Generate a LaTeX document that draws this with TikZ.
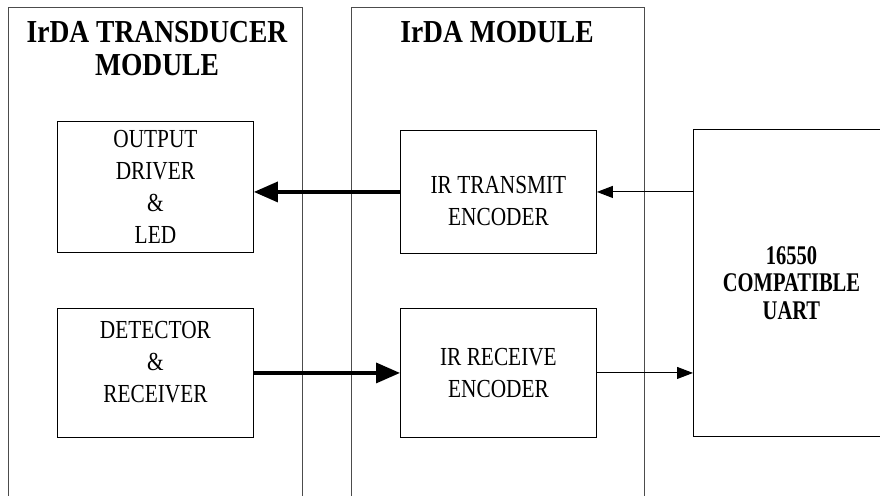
\documentclass[tikz,border=0pt]{standalone}
\usepackage{fontspec}
\setmainfont[FakeStretch=0.82]{Liberation Serif}
\newfontfamily\headfont[FakeStretch=0.86]{Liberation Serif}
\newfontfamily\uartfont[FakeStretch=0.76]{Liberation Serif}
\usetikzlibrary{arrows.meta}

\begin{document}
\begin{tikzpicture}[x=1pt,y=-1pt,
	module/.style={draw=black!70,line width=1pt,anchor=north west,inner sep=0pt},
	heading/.style={anchor=north,inner sep=0pt,align=center,font=\headfont\fontsize{32}{33}\selectfont\bfseries},
	block/.style={draw,line width=0.9pt,anchor=north west,inner sep=0pt,align=center,minimum width=196pt,font=\fontsize{26}{32}\selectfont},
	bus/.style={-{Triangle[length=24pt,width=20pt]},line width=3.5pt},
	wire/.style={-{Triangle[length=16pt,width=12pt]},line width=1pt}]

\useasboundingbox (0,0) rectangle (880,495);
\clip (0,0) rectangle (880,495);

% the two module frames run off the bottom edge
\node[module,minimum width=294pt,minimum height=520pt] (xcvr) at (8,7) {};
\node[module,minimum width=293pt,minimum height=520pt] (irda) at (351,7) {};
\node[heading] (xcvrname) at (157,21) {IrDA TRANSDUCER\\MODULE};
\node[heading] (irdaname) at (497,21) {IrDA MODULE};

\node[block,minimum height=131pt] (driver) at (57,121) {OUTPUT\\DRIVER\\\&\\LED};
\node[block,minimum height=129pt,text depth=22pt] (detector) at (57,308) {DETECTOR\\\&\\RECEIVER};
\node[block,minimum height=123pt,text height=67pt] (encoder) at (400,130) {IR TRANSMIT\\ENCODER};
\node[block,minimum height=129pt] (decoder) at (400,308) {IR RECEIVE\\ENCODER};
\node[block,minimum height=307pt,font=\uartfont\fontsize{27}{27.5}\selectfont\bfseries] (uart) at (693,129) {16550\\COMPATIBLE\\UART};

\draw[bus] (encoder.west) -- (encoder.west -| driver.east);
\draw[wire] (uart.west |- encoder.east) -- (encoder.east);
\draw[bus] (detector.east) -- (decoder.west);
\draw[wire] (decoder.east) -- (decoder.east -| uart.west);

\end{tikzpicture}
\end{document}
